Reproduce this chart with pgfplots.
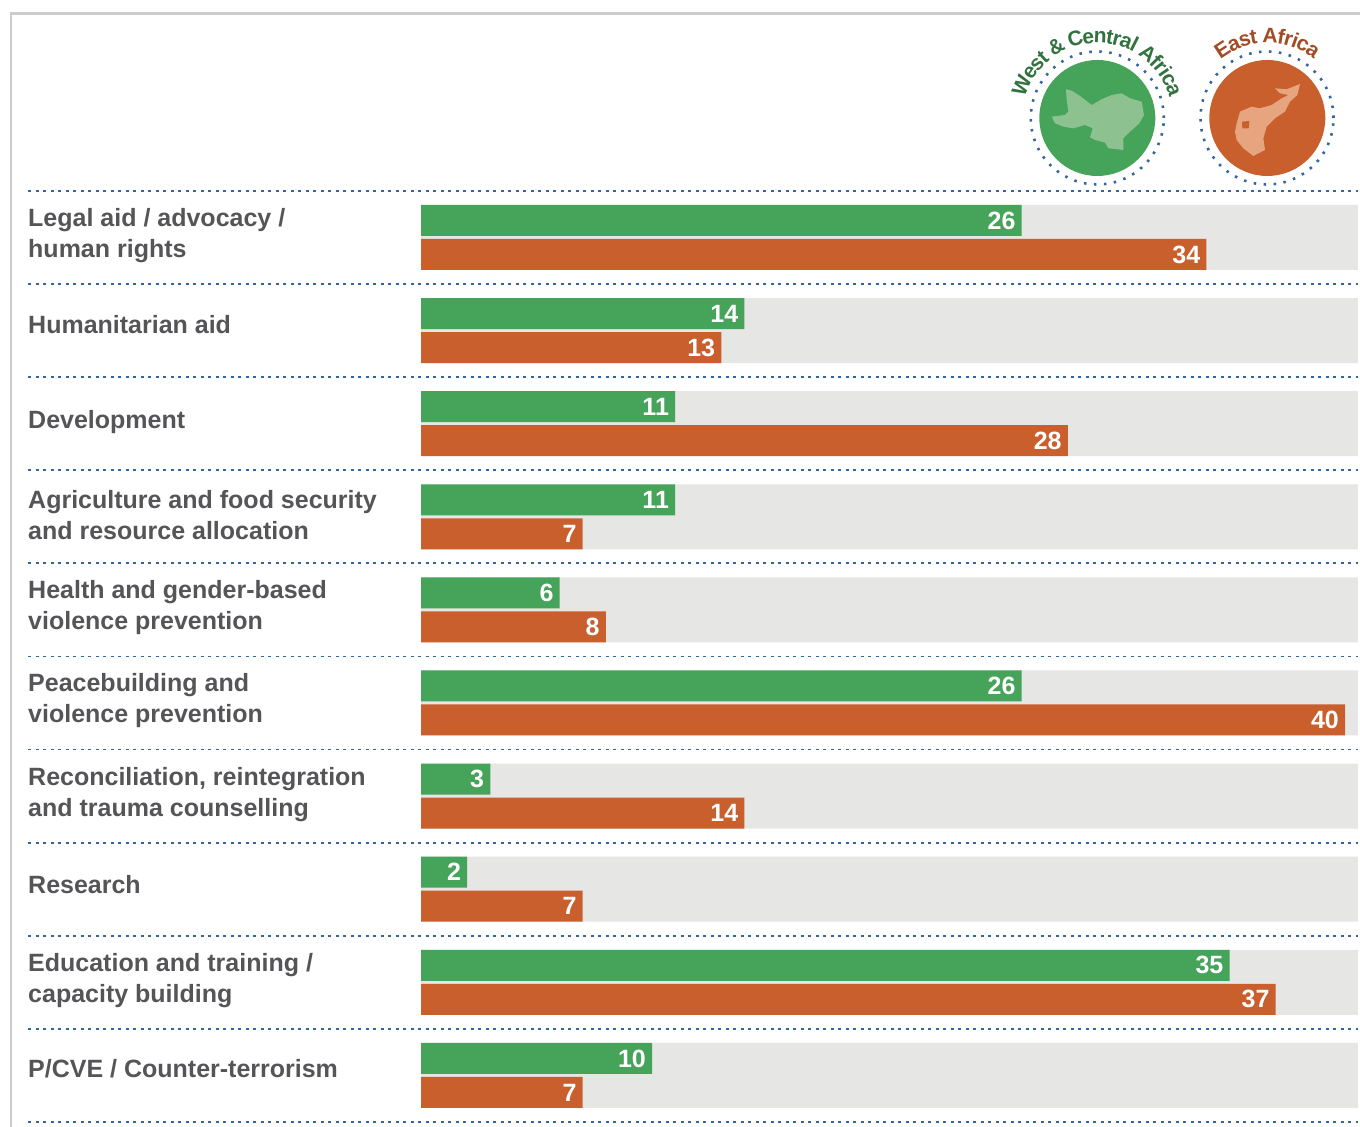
\documentclass[border=0pt]{standalone}
\usepackage{fontspec}
\setmainfont{Liberation Sans}
\usepackage{pgfplots}
\pgfplotsset{compat=1.18}
\usepackage{pgfplotstable}
\definecolor{cgreen}{HTML}{46A35A}
\definecolor{corange}{HTML}{C85F2D}
\definecolor{cgray}{HTML}{E6E6E5}
\definecolor{cdot}{HTML}{34659F}
\definecolor{clabel}{HTML}{555558}
\definecolor{cgreenl}{HTML}{8DC190}
\definecolor{corangel}{HTML}{E6A57F}
\colorlet{ctextg}{cgreen!70!black}
\colorlet{ctexto}{corange!80!black}
\pgfplotstableread{
x y
26 -0.1826
14 0.8174
11 1.8174
11 2.8174
6 3.8174
26 4.8174
3 5.8174
2 6.8174
35 7.8174
10 8.8174
}\westcentral
\pgfplotstableread{
x y
34 0.1826
13 1.1826
28 2.1826
7 3.1826
8 4.1826
40 5.1826
14 6.1826
7 7.1826
37 8.1826
7 9.1826
}\eastafrica
\pgfplotstableread{
x y
40.56 0
40.56 1
40.56 2
40.56 3
40.56 4
40.56 5
40.56 6
40.56 7
40.56 8
40.56 9
}\background
\begin{document}
\begin{tikzpicture}
\useasboundingbox (0,0) rectangle (1360pt,1127pt);
\begin{axis}[
  at={(0,0)}, anchor=south west,
  scale only axis, width=1360pt, height=1127pt,
  xmin=-18.225, xmax=40.649,
  ymin=-2.551, ymax=9.554,
  y dir=reverse,
  clip=false,
  axis line style={draw=none},
  xtick=\empty,
  ytick={0,1,2,3,4,5,6,7,8,9},
  major tick length=0pt,
  /pgf/number format/assume math mode=true,
  yticklabels={
    {Legal aid / advocacy /\\human rights},
    {\rule[-8pt]{0pt}{26pt}Humanitarian aid},
    {Development},
    {Agriculture and food security\\and resource allocation},
    {Health and gender-based\\violence prevention},
    {Peacebuilding and\\violence prevention},
    {Reconciliation, reintegration\\and trauma counselling},
    {\rule[-6pt]{0pt}{24pt}Research},
    {Education and training /\\capacity building},
    {\rule[-9pt]{0pt}{27pt}P/CVE / Counter-terrorism}},
  yticklabel style={align=left, anchor=west, xshift=28pt, yshift=2pt, inner sep=0pt,
    text=clabel, font=\fontsize{25}{31}\selectfont\bfseries},
  nodes near coords style={anchor=east, text=white, font=\fontsize{25}{30}\selectfont\bfseries, inner xsep=6pt,
    /pgf/number format/assume math mode=true},
]
\addplot[xbar, bar shift=0pt, bar width=65pt, fill=cgray, draw=none] table[x=x,y=y] {\background};
\addplot[xbar, bar shift=0pt, bar width=31pt, fill=cgreen, draw=none, nodes near coords] table[x=x,y=y] {\westcentral};
\addplot[xbar, bar shift=0pt, bar width=31pt, fill=corange, draw=none, nodes near coords] table[x=x,y=y] {\eastafrica};
\pgfplotsinvokeforeach{-0.5,0.5,1.5,2.5,3.5,4.5,5.5,6.5,7.5,8.5,9.5}{
  \addplot[sharp plot, no marks, draw=cdot, line width=1.8pt, dash pattern=on 3pt off 4.5pt]
    coordinates {(-17.01,#1) (40.56,#1)};
}
\end{axis}
\begin{scope}[x=1pt,y=-1pt,shift={(0pt,1127pt)}]
  \draw[color=black!20, line width=2.2pt] (11,1127) -- (11,13.5) -- (1360,13.5);
  \fill[cgreen] (1097.3,118) circle[radius=58pt];
  \fill[corange] (1267.3,118) circle[radius=58pt];
  \draw[cdot, line width=2.6pt, dash pattern=on 2.5pt off 7.5pt] (1097.3,118) circle[radius=66.5pt];
  \draw[cdot, line width=2.6pt, dash pattern=on 2.5pt off 7.5pt] (1267,118) circle[radius=66.5pt];
  \begin{scope}[x=0.3333pt,y=-0.3333pt,shift={(1040pt,-60pt)}]
    \fill[cgreenl]
      (78,88)--(95,92)--(120,108)--(155,135)--(185,118)--(215,105)--(245,100)--(270,115)--(305,125)--(312,165)--(298,190)--(270,215)--(250,235)--(250,270)--(205,265)--(195,248)--(165,240)--(150,232)--(158,205)--(135,195)--(100,205)--(70,200)--(45,190)--(35,170)--(75,165)--(85,155)--(80,120)--cycle;
  \end{scope}
  \begin{scope}[x=0.3333pt,y=-0.3333pt,shift={(1210pt,-60pt)}]
    \fill[corangel]
      (270,72)--(262,105)--(240,125)--(225,155)--(195,175)--(170,200)--(160,235)--(165,270)--(130,288)--(100,265)--(80,240)--(75,215)--(80,190)--(90,155)--(125,140)--(150,145)--(185,135)--(215,115)--(235,105)--(210,100)--(195,85)--(230,88)--cycle;
    \fill[corange] (96,185)--(118,183)--(116,205)--(97,205)--cycle;
  \end{scope}
\end{scope}
\foreach \c/\p in {W/0.472,e/1.222,s/1.778,t/2.2225,{\&}/3.028,C/4.028,e/4.667,n/5.2505,t/5.7225,r/6.0835,a/6.556,l/6.973,A/7.751,f/8.2785,r/8.6395,i/8.973,c/9.39,a/9.946}{
  \pgfmathsetmacro\ang{90+(5.112-\p)*14.4}
  \node[anchor=base, inner sep=0pt, text=ctextg, font=\fontsize{21}{21}\selectfont\bfseries, rotate=\ang-90]
    at ([shift={(\ang:75pt)}]1097.3pt,1009pt) {\c};
}
\foreach \c/\p in {E/0.3335,a/0.945,s/1.501,t/1.9455,A/2.751,f/3.2785,r/3.6395,i/3.973,c/4.39,a/4.946}{
  \pgfmathsetmacro\ang{90+(2.612-\p)*14.6}
  \node[anchor=base, inner sep=0pt, text=ctexto, font=\fontsize{21}{21}\selectfont\bfseries, rotate=\ang-90]
    at ([shift={(\ang:75pt)}]1267.3pt,1009pt) {\c};
}
\end{tikzpicture}
\end{document}
